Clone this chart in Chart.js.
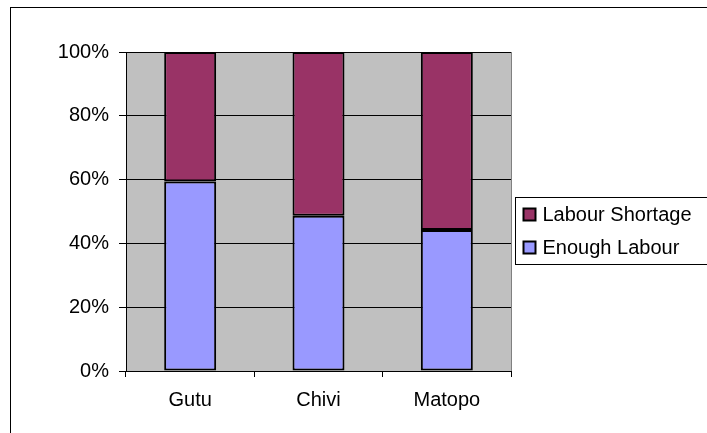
<!DOCTYPE html>
<html>
<head>
<meta charset="utf-8">
<script src="https://cdn.jsdelivr.net/npm/chart.js@4/dist/chart.umd.min.js"></script>
<style>
  html, body { margin: 0; padding: 0; background: #ffffff; }
  #wrap { width: 707px; height: 433px; }
</style>
</head>
<body>
<div id="wrap"><canvas id="c" width="707" height="433"></canvas></div>
<script>
  // data (percent of households)
  var districts = ["Gutu", "Chivi", "Matopo"];
  var enoughLabour = [59.4, 48.7, 44.2];
  var labourShortage = [40.6, 51.3, 55.8];
  var yTicks = [0, 20, 40, 60, 80, 100];

  var FONT = "'Liberation Sans', Arial, sans-serif";

  // white page, outer frame, grey plot area
  var backdrop = {
    id: "backdrop",
    beforeDraw: function (chart) {
      var ctx = chart.ctx;
      var a = chart.chartArea;
      ctx.save();
      ctx.fillStyle = "#ffffff";
      ctx.fillRect(0, 0, chart.width, chart.height);
      ctx.strokeStyle = "#000000";
      ctx.lineWidth = 1;
      ctx.strokeRect(10.5, 7.5, 900, 700);
      ctx.fillStyle = "#c0c0c0";
      ctx.fillRect(a.left, a.top, a.right - a.left, a.bottom - a.top);
      ctx.restore();
    },
    beforeDatasetsDraw: function (chart) {
      var ctx = chart.ctx;
      var a = chart.chartArea;
      ctx.save();
      ctx.strokeStyle = "#808080";
      ctx.lineWidth = 1;
      ctx.beginPath();
      ctx.moveTo(Math.round(a.right) + 0.5, a.top);
      ctx.lineTo(Math.round(a.right) + 0.5, a.bottom);
      ctx.stroke();
      ctx.restore();
    }
  };

  // boxed legend on the right, top series first
  var boxLegend = {
    id: "boxLegend",
    afterDraw: function (chart) {
      var ctx = chart.ctx;
      var a = chart.chartArea;
      var x0 = Math.round(a.right) + 4.5;
      var y0 = 197.5;
      ctx.save();
      ctx.fillStyle = "#ffffff";
      ctx.fillRect(x0, y0, 300, 67);
      ctx.strokeStyle = "#000000";
      ctx.lineWidth = 1;
      ctx.strokeRect(x0, y0, 300, 67);
      ctx.font = "20px " + FONT;
      ctx.textBaseline = "middle";
      ctx.textAlign = "left";
      var sets = chart.data.datasets.slice().reverse();
      sets.forEach(function (ds, i) {
        var cy = 214.5 + i * 33;
        ctx.fillStyle = ds.backgroundColor;
        ctx.fillRect(x0 + 8, cy - 6, 12, 12);
        ctx.lineWidth = 2;
        ctx.strokeStyle = "#000000";
        ctx.strokeRect(x0 + 8, cy - 6, 12, 12);
        ctx.fillStyle = "#000000";
        ctx.fillText(ds.label, x0 + 27, cy + 1);
      });
      ctx.restore();
    }
  };

  new Chart(document.getElementById("c"), {
    type: "bar",
    data: {
      labels: districts,
      datasets: [
        {
          label: "Enough Labour",
          data: enoughLabour,
          backgroundColor: "#9999ff",
          borderColor: "#000000",
          borderWidth: 2,
          borderSkipped: false
        },
        {
          label: "Labour Shortage",
          data: labourShortage,
          backgroundColor: "#993366",
          borderColor: "#000000",
          borderWidth: 2,
          borderSkipped: false
        }
      ]
    },
    options: {
      responsive: false,
      animation: false,
      devicePixelRatio: 1,
      layout: { padding: { left: 10, right: 196, top: 52, bottom: 12 } },
      datasets: { bar: { barPercentage: 0.405, categoryPercentage: 1 } },
      plugins: {
        legend: { display: false },
        tooltip: { enabled: false }
      },
      scales: {
        x: {
          stacked: true,
          offset: true,
          grid: {
            offset: true,
            drawOnChartArea: false,
            drawTicks: true,
            tickLength: 6,
            color: "#000000"
          },
          border: { color: "#000000", width: 1 },
          ticks: { color: "#000000", font: { family: FONT, size: 20 }, padding: 11 },
          afterFit: function (s) { s.height = 50; }
        },
        y: {
          stacked: true,
          min: 0,
          max: 100,
          afterBuildTicks: function (s) {
            s.ticks = yTicks.map(function (v) { return { value: v }; });
          },
          grid: { color: "#000000", tickLength: 7, drawTicks: true },
          border: { color: "#000000", width: 1 },
          ticks: {
            color: "#000000",
            font: { family: FONT, size: 20 },
            padding: 10,
            callback: function (v) { return v + "%"; }
          },
          afterFit: function (s) { s.width = 116; }
        }
      }
    },
    plugins: [backdrop, boxLegend]
  });
</script>
</body>
</html>
